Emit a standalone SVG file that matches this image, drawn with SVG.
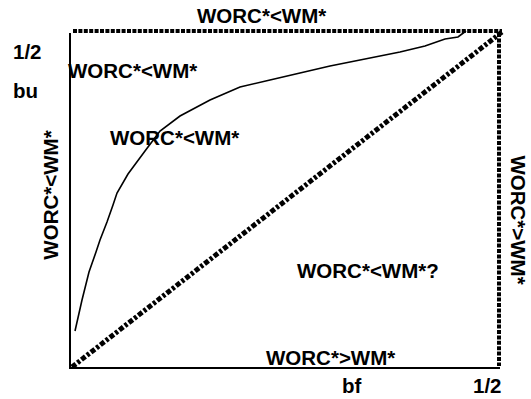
<svg xmlns="http://www.w3.org/2000/svg" width="531" height="399" viewBox="0 0 531 399">
<style>
.t{font-family:"Liberation Sans",Arial,sans-serif;font-weight:bold;font-size:20.5px;fill:#000}
.axis{stroke:#000;stroke-width:2;fill:none}
.dot{stroke:#000;stroke-width:4;fill:none;stroke-dasharray:4 1.4}
.diag{stroke:#000;stroke-width:5;fill:none;stroke-dasharray:5 2 3 2}
.curve{stroke:#000;stroke-width:1.6;fill:none}
</style>
<rect width="531" height="399" fill="#fff"/>
<g id="connectors">
<path class="dot" d="M73 31 H502"/>
<path class="dot" d="M499 33 V366"/>
<path class="axis" d="M70 33 V368 H500"/>
<path class="diag" d="M72 367 L502 32"/>
<path class="curve" d="M75 331 L82 300 L89 272 L96 252 L100 240 L107 222 L113 205 L117 193 L128 174 L145 151 L160 131 L180 116 L210 100 L240 87 L270 80 L300 73 L330 66 L360 60 L400 52 L425 46 L445 39 L458 37 L466 31"/>
</g>
<g id="labels">
<text class="t" x="197" y="23">WORC*&lt;WM*</text>
<text class="t" x="13" y="59">1/2</text>
<text class="t" x="13" y="98">bu</text>
<text class="t" x="68" y="78">WORC*&lt;WM*</text>
<text class="t" x="110" y="145">WORC*&lt;WM*</text>
<text class="t" x="297" y="278">WORC*&lt;WM*?</text>
<text class="t" x="266" y="365">WORC*&gt;WM*</text>
<text class="t" x="342" y="393">bf</text>
<text class="t" x="473" y="393">1/2</text>
<text class="t" text-anchor="middle" transform="translate(58,195) rotate(-90)">WORC*&lt;WM*</text>
<text class="t" text-anchor="middle" transform="translate(511,220) rotate(90)">WORC*&gt;WM*</text>
</g>
</svg>
